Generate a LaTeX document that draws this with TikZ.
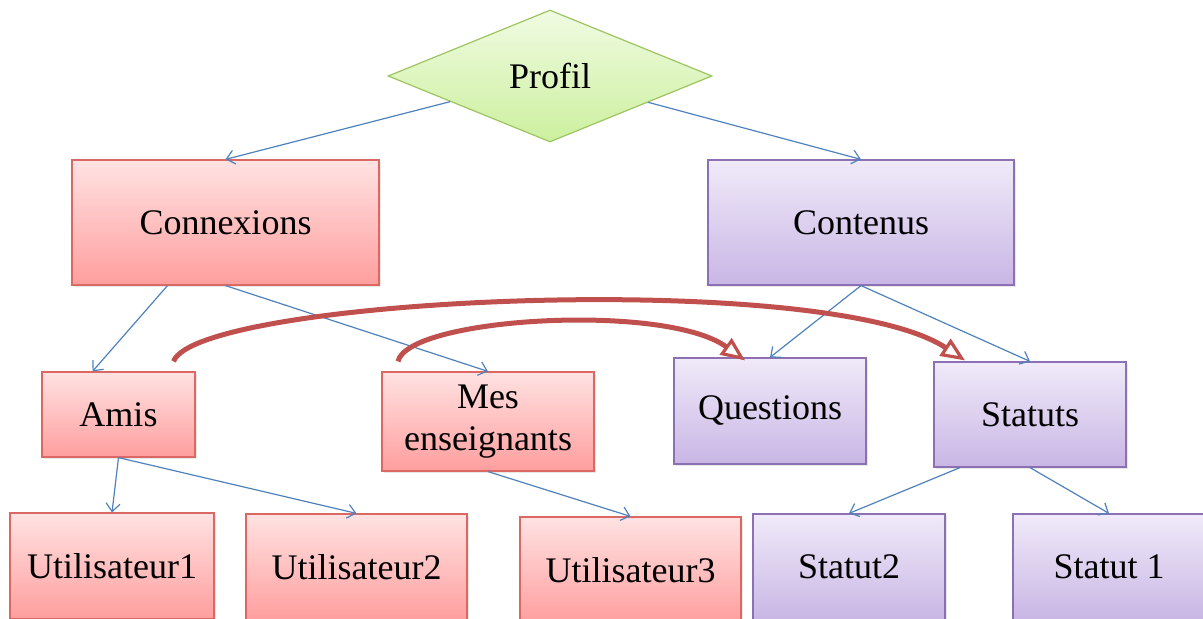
\documentclass[tikz,border=0pt]{standalone}
\usepackage{fontspec}
\setmainfont{Liberation Serif}
\usetikzlibrary{positioning}
\usetikzlibrary{calc}
\usetikzlibrary{arrows.meta}
\usetikzlibrary{shapes.geometric}
\usetikzlibrary{shadows}
\definecolor{linkblue}{RGB}{79,129,189}
\definecolor{curvered}{RGB}{192,80,77}
\definecolor{redtop}{RGB}{255,226,226}
\definecolor{redbot}{RGB}{255,158,158}
\definecolor{redline}{RGB}{220,104,100}
\definecolor{violtop}{RGB}{240,234,249}
\definecolor{violbot}{RGB}{201,182,229}
\definecolor{violline}{RGB}{140,112,180}
\definecolor{greentop}{RGB}{240,251,226}
\definecolor{greenbot}{RGB}{204,240,158}
\definecolor{greenline}{RGB}{158,196,98}

\tikzset{
        box/.style={draw, rectangle, line width=0.6pt, inner sep=2pt, align=center,
                font=\fontsize{18}{21}\selectfont,
                drop shadow={opacity=0.18, shadow xshift=1pt, shadow yshift=-1pt}},
        redbox/.style={box, draw=redline, top color=redtop, bottom color=redbot},
        violbox/.style={box, draw=violline, top color=violtop, bottom color=violbot},
        link/.style={->, >={Straight Barb[length=4pt, width=7pt]}, linkblue, line width=0.6pt},
        jump/.style={curvered, line width=2.5pt,
                -{Triangle[open, fill=white, length=12pt, width=10pt, line width=1.6pt]}}
}

\begin{document}
\begin{tikzpicture}[x=0.5pt, y=-0.5pt]
        \useasboundingbox (0,0) rectangle (1203,619);
        \clip (0,0) rectangle (1203,619);

        % nodes %
        \node[draw=greenline, line width=0.6pt, diamond, aspect=2.45, inner sep=0pt,
                minimum width=162pt, minimum height=66pt,
                top color=greentop, bottom color=greenbot,
                font=\fontsize{18}{21}\selectfont] (profil) at (550,76) {Profil};

        \node[redbox, minimum width=153.5pt, minimum height=62.5pt] (connexions) at (225.5,222.5) {Connexions};
        \node[violbox, minimum width=153pt, minimum height=62.5pt] (contenus) at (861,222.5) {Contenus};

        \node[redbox, minimum width=76.5pt, minimum height=42.5pt] (amis) at (118.5,414.5) {Amis};
        \node[redbox, minimum width=106pt, minimum height=49.5pt] (mes) at (488,421.5) {Mes\\enseignants};
        \node[violbox, minimum width=96pt, minimum height=53pt] (questions) at (770,411) {Questions};
        \node[violbox, minimum width=96pt, minimum height=52.5pt] (statuts) at (1030,414.5) {Statuts};

        \node[redbox, minimum width=102pt, minimum height=53pt] (util1) at (112,566) {Utilisateur1};
        \node[redbox, minimum width=110.5pt, minimum height=53pt] (util2) at (356.5,567) {Utilisateur2};
        \node[redbox, minimum width=110.5pt, minimum height=53pt] (util3) at (630.5,570) {Utilisateur3};
        \node[violbox, minimum width=96pt, minimum height=53pt] (statut2) at (849,567) {Statut2};
        \node[violbox, minimum width=96pt, minimum height=53pt] (statut1) at (1109,567) {Statut 1};

        % edges %
        \draw[link] (profil) -- (connexions.north);
        \draw[link] (profil) -- (contenus.north);
        \draw[link] ([xshift=-29pt]connexions.south) -- ([xshift=-13pt]amis.north);
        \draw[link] (connexions.south) -- (mes.north);
        \draw[link] (contenus.south) -- (questions.north);
        \draw[link] (contenus.south) -- (statuts.north);
        \draw[link] (amis.south) -- (util1.north);
        \draw[link] (amis.south) -- (util2.north);
        \draw[link] (mes.south) -- (util3.north);
        \draw[link] ([xshift=-35pt]statuts.south) -- (statut2.north);
        \draw[link] (statuts.south) -- (statut1.north);

        % curved arrows %
        \draw[jump] ($(amis.north)+(55,-10)$) .. controls +(24,-64) and +(-140,-92) .. ($(statuts.north)+(-65,-1)$);
        \draw[jump] ($(mes.north)+(-90,-10)$) .. controls +(10,-44) and +(-80,-58) .. ($(questions.north)+(-25,3)$);
\end{tikzpicture}
\end{document}
